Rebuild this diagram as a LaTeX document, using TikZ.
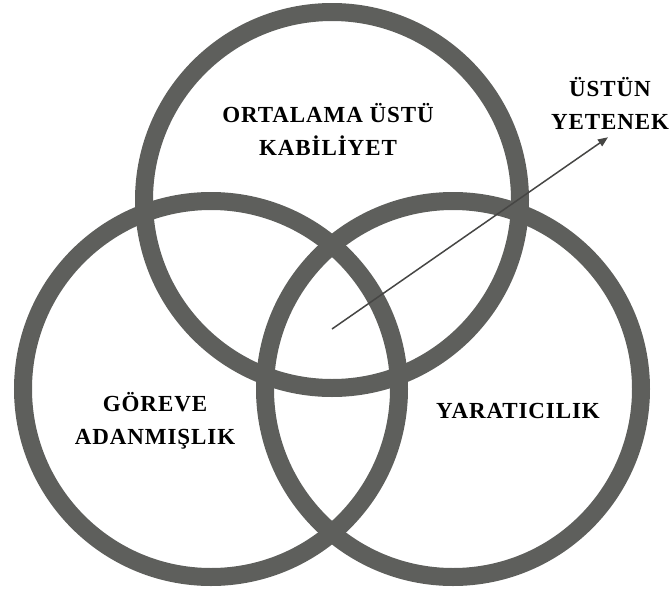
\documentclass[tikz,border=0pt]{standalone}
\usepackage{fontspec}
\setmainfont{Liberation Serif}
\usetikzlibrary{arrows.meta}
\definecolor{ringgray}{RGB}{94,95,92}
\definecolor{arrowgray}{RGB}{70,70,68}

\begin{document}
\begin{tikzpicture}[x=1pt,y=-1pt,
    ring/.style={draw=ringgray,line width=18pt},
    lab/.style={font=\bfseries\fontsize{23}{33}\selectfont\addfontfeature{LetterSpace=4},
      inner sep=0pt,align=center}]
  \useasboundingbox (0,0) rectangle (670,592);
  % the three rings
  \coordinate (abil) at (332,200);
  \coordinate (comm) at (211,389);
  \coordinate (crea) at (453,389);
  \draw[ring] (abil) circle (188pt);
  \draw[ring] (comm) circle (188pt);
  \draw[ring] (crea) circle (188pt);
  % labels
  \node[lab] (abilt) at (328,129) {ORTALAMA ÜSTÜ\\KABİLİYET};
  \node[lab] (commt) at (155,421) {GÖREVE\\ADANMIŞLIK};
  \node[lab] (creat) at (518,411) {YARATICILIK};
  \node[lab] (gift) at (610,103) {ÜSTÜN\\YETENEK};
  \coordinate (core) at (332,329);
  \coordinate (tip) at ([xshift=-2pt,yshift=-8pt]gift.south);
  \draw[arrowgray,line width=1.5pt,-{Triangle[length=10pt,width=8pt]}] (core) -- (tip);
\end{tikzpicture}
\end{document}
